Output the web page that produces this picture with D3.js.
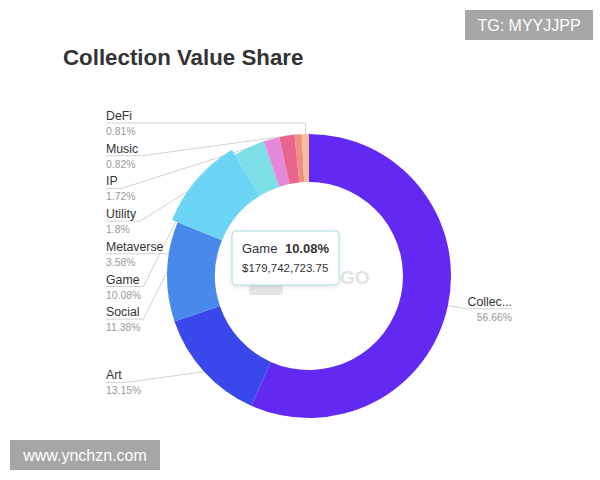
<!DOCTYPE html>
<html><head><meta charset="utf-8">
<script src="https://cdn.jsdelivr.net/npm/d3@7/dist/d3.min.js"></script>
<style>body{margin:0;background:#fff} svg{display:block}</style>
</head><body>
<svg id="chart" width="600" height="480"></svg>
<script>
// ---- data ----
const categories = ["Collectibles","Art","Social","Game","Metaverse","Utility","IP","Music","DeFi"];
const shares = [56.66,13.15,11.38,10.08,3.58,1.8,1.72,0.82,0.81];
const shareLabels = ["56.66%","13.15%","11.38%","10.08%","3.58%","1.8%","1.72%","0.82%","0.81%"];
const colors = ["#6229f2","#3a48eb","#4a89ec","#6cd5f6","#7ddee8","#e489da","#e8648c","#ee9180","#f5be9b"];
const highlighted = "Game";
const tooltipValue = "$179,742,723.75";
const title = "Collection Value Share";

// ---- layout ----
const W = 600, H = 480;
const cx = 309, cy = 276, R = 142, r0 = 94, hoverGrow = 6;
const labelOffset = 203, len1 = 16, labelTop = 123, labelGap = 32.7;
const font = "'Liberation Sans', Arial, Helvetica, sans-serif";

const svg = d3.select("#chart");
svg.append("rect").attr("width", W).attr("height", H).attr("fill", "#fff");

svg.append("text").attr("x", 63).attr("y", 65)
  .attr("font-family", font).attr("font-size", 22.3).attr("font-weight", "bold")
  .attr("fill", "#333").text(title);

const data = categories.map((c, i) => ({cat: c, value: shares[i], label: shareLabels[i], color: colors[i]}));
const pie = d3.pie().sort(null).value(d => d.value).startAngle(0).endAngle(2 * Math.PI);
const arcs = pie(data);
const arc = d3.arc().innerRadius(r0)
  .outerRadius(d => d.data.cat === highlighted ? R + hoverGrow : R);

const g = svg.append("g");

// faint watermark in the centre
const wm = g.append("g");
wm.append("rect").attr("x", cx - 60).attr("y", cy + 7).attr("width", 34).attr("height", 12)
  .attr("rx", 4).attr("fill", "#e4e4e4");
wm.append("text").attr("x", cx + 31).attr("y", cy + 8)
  .attr("font-family", font).attr("font-size", 19).attr("font-weight", "bold")
  .attr("fill", "#e2e2e2").text("GO");

// label layout
arcs.forEach(a => {
  const m = (a.startAngle + a.endAngle) / 2;
  const rr = a.data.cat === highlighted ? R + hoverGrow : R;
  a.mid = m;
  a.p = [cx + rr * Math.sin(m), cy - rr * Math.cos(m)];
  a.ideal = cy - (R + len1) * Math.cos(m);
  a.side = Math.sin(m) < 0 ? "left" : "right";
});
const left = arcs.filter(a => a.side === "left").sort((a, b) => a.ideal - b.ideal);
let prev = labelTop - labelGap;
left.forEach(a => { a.ly = Math.max(a.ideal, prev + labelGap, labelTop); prev = a.ly; });
arcs.filter(a => a.side === "right").forEach(a => { a.ly = a.ideal; });

const lineG = g.append("g");
const labG = g.append("g");

function shortName(n) { return n.length > 9 ? n.slice(0, 6) + "..." : n; }

arcs.forEach(a => {
  const isLeft = a.side === "left";
  const lx = isLeft ? cx - labelOffset : cx + labelOffset;
  const anchor = isLeft ? "start" : "end";
  const t = labG.append("text").attr("x", lx).attr("y", a.ly - 3)
    .attr("text-anchor", anchor).attr("font-family", font).attr("font-size", 12.3)
    .attr("fill", "#333").text(shortName(a.data.cat));
  labG.append("text").attr("x", lx).attr("y", a.ly + 12)
    .attr("text-anchor", anchor).attr("font-family", font).attr("font-size", 10.4)
    .attr("fill", "#999").text(a.data.label);
  const tw = t.node().getComputedTextLength();
  let pts;
  if (isLeft) {
    let kx = (a.ly < cy - R) ? a.p[0] : lx + tw + 4;
    pts = [[lx, a.ly], [kx, a.ly], a.p];
  } else {
    pts = [a.p, [lx - tw - 1, a.ly], [lx, a.ly]];
  }
  lineG.append("path").attr("d", d3.line()(pts))
    .attr("fill", "none").attr("stroke", "#d2d2d2").attr("stroke-width", 1);
});

// slices
g.append("g").selectAll("path").data(arcs).join("path")
  .attr("transform", `translate(${cx},${cy})`)
  .attr("d", arc).attr("fill", d => d.data.color);

// tooltip
const hi = arcs.find(a => a.data.cat === highlighted);
const tx = cx - 77, ty = cy - 45;
const tip = svg.append("g").attr("transform", `translate(${tx},${ty})`);
const defs = svg.append("defs");
const f = defs.append("filter").attr("id", "sh").attr("x", "-20%").attr("y", "-20%").attr("width", "140%").attr("height", "150%");
f.append("feDropShadow").attr("dx", 0).attr("dy", 1).attr("stdDeviation", 2).attr("flood-color", "#000").attr("flood-opacity", 0.12);
tip.append("rect").attr("width", 107).attr("height", 54).attr("rx", 4)
  .attr("fill", "#fff").attr("stroke", "#a9dbe4").attr("stroke-width", 1).attr("filter", "url(#sh)");
tip.append("text").attr("x", 10).attr("y", 22).attr("font-family", font).attr("font-size", 13)
  .attr("fill", "#333").text(hi.data.cat);
tip.append("text").attr("x", 97).attr("y", 22).attr("text-anchor", "end").attr("font-family", font)
  .attr("font-size", 13).attr("font-weight", "bold").attr("fill", "#333").text(hi.data.label);
tip.append("text").attr("x", 10).attr("y", 41).attr("font-family", font).attr("font-size", 11.5)
  .attr("fill", "#333").text(tooltipValue);

// corner stamps
const s1 = svg.append("g");
s1.append("rect").attr("x", 465).attr("y", 10).attr("width", 128).attr("height", 30).attr("fill", "#a6a6a6");
s1.append("text").attr("x", 529).attr("y", 31).attr("text-anchor", "middle").attr("font-family", font)
  .attr("font-size", 16).attr("fill", "#fff").text("TG: MYYJJPP");
const s2 = svg.append("g");
s2.append("rect").attr("x", 10).attr("y", 440).attr("width", 150).attr("height", 30).attr("fill", "#a6a6a6");
s2.append("text").attr("x", 85).attr("y", 461).attr("text-anchor", "middle").attr("font-family", font)
  .attr("font-size", 16).attr("fill", "#fff").text("www.ynchzn.com");
</script>
</body></html>
